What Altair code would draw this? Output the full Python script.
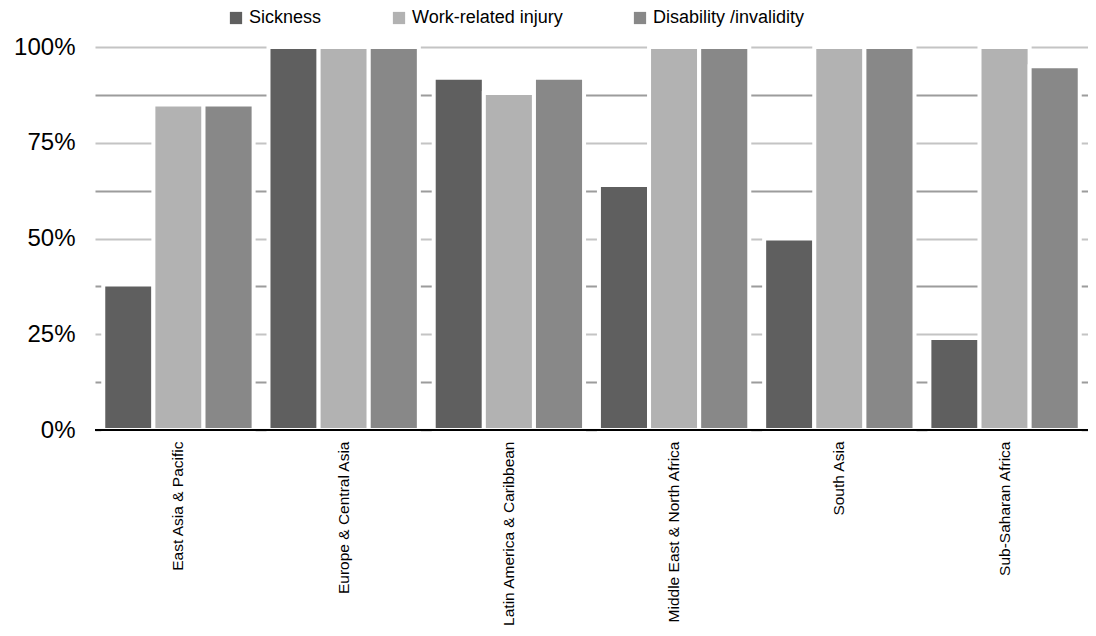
import altair as alt
import pandas as pd

regions = ["East Asia & Pacific", "Europe & Central Asia", "Latin America & Caribbean",
           "Middle East & North Africa", "South Asia", "Sub-Saharan Africa"]
series = ["Sickness", "Work-related injury", "Disability /invalidity"]
sickness = [0.38, 1.00, 0.92, 0.64, 0.50, 0.24]
work_injury = [0.85, 1.00, 0.88, 1.00, 1.00, 1.00]
disability = [0.85, 1.00, 0.92, 1.00, 1.00, 0.95]
colors = ["#5f5f5f", "#b2b2b2", "#888888"]
y_ticks = [0, 0.125, 0.25, 0.375, 0.5, 0.625, 0.75, 0.875, 1.0]

rows = []
for i, r in enumerate(regions):
    for s, vals in zip(series, [sickness, work_injury, disability]):
        rows.append({"region": r, "series": s, "value": vals[i]})
df = pd.DataFrame(rows)

FONT = "Liberation Sans"

y_enc = alt.Y("value:Q", title=None,
              scale=alt.Scale(domain=[0, 1], nice=False),
              axis=alt.Axis(values=y_ticks, grid=True, domain=False, ticks=False, tickSize=0,
                            labelPadding=20, labelFontSize=24, labelFont=FONT, labelColor="black",
                            labelExpr="(datum.value*4) % 1 === 0 ? format(datum.value, '.0%') : ''",
                            gridColor=alt.condition("(datum.value*4) % 1 === 0",
                                                    alt.value("#c4c4c4"), alt.value("#9c9c9c")),
                            gridWidth=2))

bars = alt.Chart(df).mark_bar(stroke="white", strokeWidth=4).encode(
    x=alt.X("region:N", sort=regions, title=None,
            scale=alt.Scale(paddingInner=0.09, paddingOuter=0.05),
            axis=alt.Axis(labelAngle=-90, labelFontSize=15.5, labelFont=FONT, labelColor="black",
                          ticks=False, tickSize=0, labelPadding=11, domain=False,
                          labelBaseline="middle", labelAlign="right", labelLimit=400)),
    xOffset=alt.XOffset("series:N", sort=series, scale=alt.Scale(paddingInner=0, paddingOuter=0)),
    y=y_enc,
    color=alt.Color("series:N", sort=series,
                    scale=alt.Scale(domain=series, range=colors),
                    legend=alt.Legend(title=None, orient="none", direction="horizontal",
                                      legendX=132, legendY=-38, symbolType="square",
                                      symbolSize=150, symbolStrokeWidth=0, labelFontSize=18,
                                      labelFont=FONT, labelColor="black", columnPadding=68,
                                      symbolOffset=0, labelOffset=4)),
)

baseline = alt.Chart(pd.DataFrame({"v": [0]})).mark_rule(color="black", strokeWidth=2).encode(
    y=alt.Y("v:Q")
)

chart = alt.layer(bars, baseline).properties(
    width=993, height=383,
    autosize=alt.AutoSizeParams(type="none"),
    padding={"left": 87, "top": 39, "right": 0, "bottom": 196},
).configure_view(stroke=None)

chart.save("out.html", embed_options={"renderer": "svg", "actions": False})
